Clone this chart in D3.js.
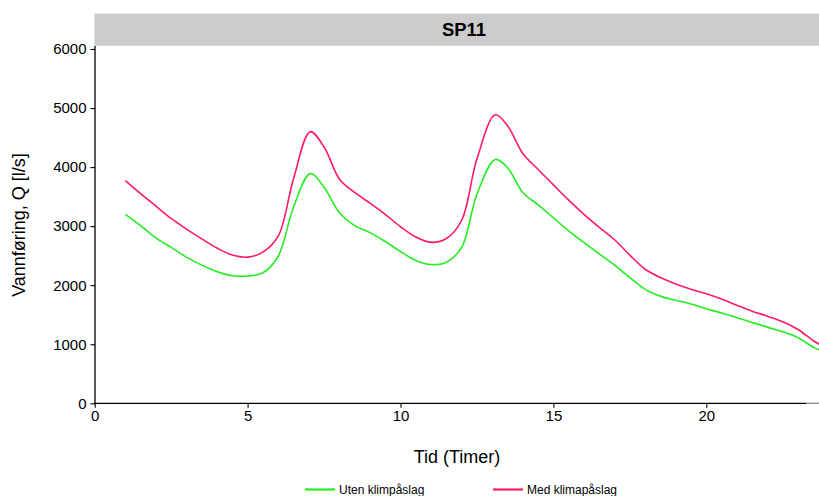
<!DOCTYPE html>
<html>
<head>
<meta charset="utf-8">
<script src="https://cdn.jsdelivr.net/npm/d3@7"></script>
<style>
  html, body { margin: 0; padding: 0; background: #fff; }
  svg { display: block; font-family: "Liberation Sans", Arial, sans-serif; }
</style>
</head>
<body>
<svg id="chart" width="819" height="496"></svg>
<script>
// Hydrograph for SP11: discharge with and without climate factor
const hours = [1, 1.5, 2, 2.5, 3, 3.5, 4, 4.5, 5, 5.5, 6, 6.5, 7.05, 7.5, 8, 8.5, 9, 9.5,
  10, 10.5, 11, 11.5, 12, 12.5, 13.1, 13.5, 14, 14.5, 15, 15.5, 16, 16.5, 17, 17.5,
  18, 18.5, 19, 19.5, 20, 20.5, 21, 21.5, 22, 22.5, 23, 23.5, 23.7];

const utenKlima = [3200, 3010, 2800, 2640, 2475, 2340, 2230, 2160, 2155, 2210, 2490, 3320,
  3890, 3660, 3230, 3010, 2890, 2740, 2570, 2420, 2350, 2390, 2640, 3540, 4130, 3990,
  3570, 3360, 3140, 2920, 2720, 2530, 2340, 2130, 1930, 1815, 1745, 1680, 1600, 1530,
  1450, 1370, 1290, 1210, 1110, 950, 905];

const medKlima = [3770, 3550, 3340, 3130, 2950, 2785, 2630, 2510, 2475, 2560, 2830, 3800,
  4600, 4340, 3800, 3570, 3390, 3200, 2990, 2815, 2725, 2790, 3100, 4140, 4885, 4700,
  4230, 3960, 3700, 3440, 3200, 2980, 2770, 2510, 2270, 2130, 2020, 1930, 1855, 1765,
  1660, 1560, 1475, 1380, 1250, 1060, 1000];

const xTicks = [0, 5, 10, 15, 20];
const yTicks = [0, 1000, 2000, 3000, 4000, 5000, 6000];

const seriesNames = ["Uten klimpåslag", "Med klimapåslag"];
const seriesColors = ["#22EE22", "#FF1A66"];
const stripTitle = "SP11";
const xTitle = "Tid (Timer)";
const yTitle = "Vannføring, Q [l/s]";

const svg = d3.select("#chart");

const panel = { left: 95, right: 819, top: 46, bottom: 403.3 };

const x = d3.scaleLinear().domain([0, 20]).range([94.7, 706.3]);
const y = d3.scaleLinear().domain([0, 6000]).range([403.3, 49]);

// strip header
svg.append("rect")
  .attr("x", 94.5).attr("y", 13.5)
  .attr("width", 819 - 94.5).attr("height", 32.2)
  .attr("fill", "#CCCCCC");
svg.append("text")
  .attr("x", 464).attr("y", 36)
  .attr("text-anchor", "middle")
  .attr("font-size", 18.5).attr("font-weight", "bold")
  .attr("fill", "#000")
  .text(stripTitle);

// clip for the lines
svg.append("defs").append("clipPath").attr("id", "panelClip")
  .append("rect")
  .attr("x", panel.left).attr("y", panel.top)
  .attr("width", panel.right - panel.left).attr("height", panel.bottom - panel.top);

const line = d3.line()
  .x((d, i) => x(hours[i]))
  .y(d => y(d))
  .curve(d3.curveCatmullRom.alpha(0.5));

const g = svg.append("g").attr("clip-path", "url(#panelClip)");
[utenKlima, medKlima].forEach((vals, k) => {
  g.append("path")
    .datum(vals)
    .attr("d", line)
    .attr("fill", "none")
    .attr("stroke", seriesColors[k])
    .attr("stroke-width", 1.6)
    .attr("stroke-linejoin", "round");
});

// y axis
const yAxis = d3.axisLeft(y).tickValues(yTicks).tickSize(4.5).tickPadding(4).tickFormat(d3.format("d"));
const yg = svg.append("g").attr("transform", `translate(${panel.left},0)`).call(yAxis);
yg.select(".domain").remove();
yg.selectAll("line").attr("stroke", "#000").attr("stroke-width", 1.1);
yg.selectAll("text").attr("font-size", 15).attr("fill", "#000")
  .attr("font-family", "Liberation Sans, Arial, sans-serif");
svg.append("line")
  .attr("x1", panel.left).attr("x2", panel.left)
  .attr("y1", panel.top).attr("y2", panel.bottom + 0.5)
  .attr("stroke", "#000").attr("stroke-width", 1.3);

// x axis
const xAxis = d3.axisBottom(x).tickValues(xTicks).tickSize(4.5).tickPadding(3).tickFormat(d3.format("d"));
const xg = svg.append("g").attr("transform", `translate(0,${panel.bottom})`).call(xAxis);
xg.select(".domain").remove();
xg.selectAll("line").attr("stroke", "#000").attr("stroke-width", 1.1);
xg.selectAll("text").attr("font-size", 15).attr("fill", "#000")
  .attr("font-family", "Liberation Sans, Arial, sans-serif");
svg.append("line")
  .attr("x1", panel.left - 0.5).attr("x2", 806)
  .attr("y1", panel.bottom).attr("y2", panel.bottom)
  .attr("stroke", "#000").attr("stroke-width", 1.3);
svg.append("line")
  .attr("x1", 806).attr("x2", 819)
  .attr("y1", panel.bottom).attr("y2", panel.bottom)
  .attr("stroke", "#888").attr("stroke-width", 1.3);

// axis titles
svg.append("text")
  .attr("x", 457).attr("y", 462.5)
  .attr("text-anchor", "middle")
  .attr("font-size", 18).attr("fill", "#000")
  .text(xTitle);
svg.append("text")
  .attr("transform", "translate(24.5,225) rotate(-90)")
  .attr("text-anchor", "middle")
  .attr("font-size", 18).attr("fill", "#000")
  .text(yTitle);

// legend
const legendX = [305, 493];
seriesNames.forEach((name, k) => {
  const lg = svg.append("g").attr("transform", `translate(${legendX[k]},489.5)`);
  lg.append("line").attr("x1", 0).attr("x2", 30).attr("y1", 0).attr("y2", 0)
    .attr("stroke", seriesColors[k]).attr("stroke-width", 2.2);
  lg.append("text").attr("x", 34).attr("y", 4.3)
    .attr("font-size", 12).attr("fill", "#000")
    .text(name);
});
</script>
</body>
</html>
